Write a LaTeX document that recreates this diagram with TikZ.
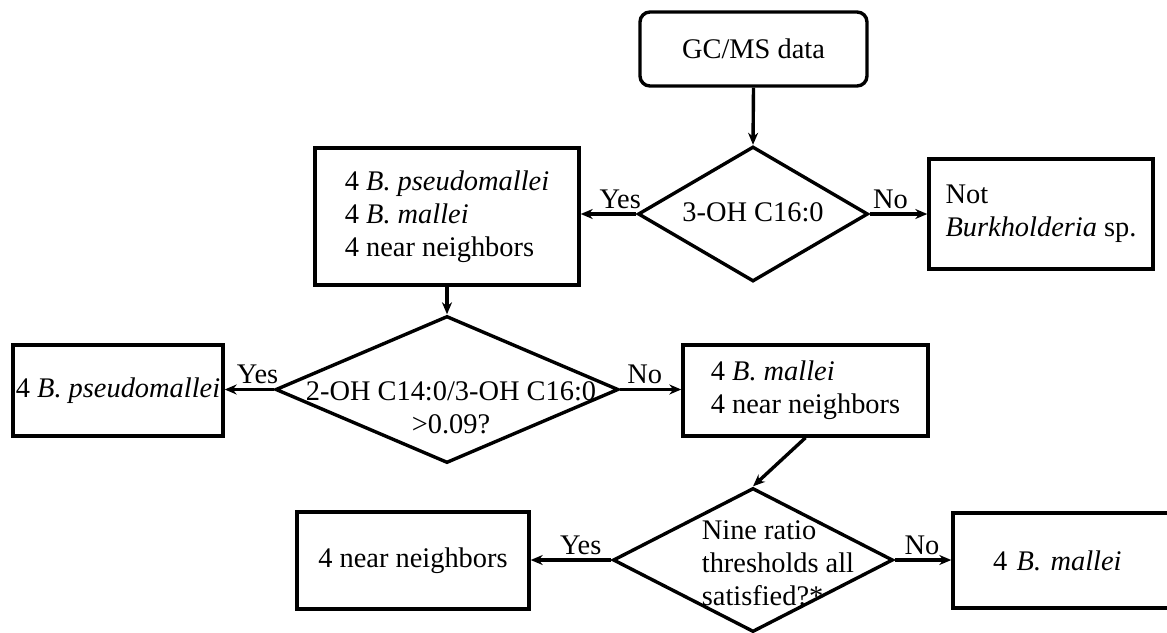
\documentclass[tikz,border=0pt]{standalone}
\usepackage{fontspec}
\setmainfont{Liberation Serif}
\usetikzlibrary{arrows.meta, shapes.geometric}

\begin{document}
\begin{tikzpicture}[x=0.5pt, y=-0.5pt, >={Stealth[length=6pt, width=5pt]},
  font=\fontsize{14.2pt}{16.5pt}\selectfont, line width=1.7pt,
  box/.style={draw, rectangle, inner sep=0pt, align=left},
  choice/.style={draw, diamond, inner sep=0pt},
  ans/.style={above, inner sep=2pt}]
  \useasboundingbox (0,0) rectangle (1167,632);

  % boxes
  \node[box, rounded corners=5pt, minimum width=113.5pt, minimum height=37pt] (gcms) at (753.5,49) {GC/MS data};
  \node[box, minimum width=132pt, minimum height=68.5pt] (all) at (447,216.5) {4 \textit{B. pseudomallei}\\4 \textit{B. mallei}\\4 near neighbors};
  \node[box, minimum width=112pt, minimum height=55pt] (notb) at (1041,214) {Not\\\textit{Burkholderia} sp.};
  \node[box, minimum width=105pt, minimum height=45.5pt] (bps) at (118,390.5) {4 \textit{B. pseudomallei}};
  \node[box, minimum width=122.5pt, minimum height=45.5pt] (bmnn) at (805.5,390.5) {4 \textit{B. mallei}\\4 near neighbors};
  \node[box, minimum width=116pt, minimum height=48.5pt] (nn) at (413,560.5) {4 near neighbors};
  \node[box, minimum height=47.5pt, inner xsep=20pt, text width=87pt] (bm) at (1080,560.5) {4 \textit{B. mallei}};

  % decisions
  \node[choice, minimum width=115pt, minimum height=67.5pt] (q1) at (753,214) {};
  \node (q1t) at (753,212) {3-OH C16:0};
  \node[choice, minimum width=171.5pt, minimum height=73.5pt] (q2) at (447,389.5) {};
  \node[align=center] (q2t) at (451,408) {2-OH C14:0/3-OH C16:0\\>0.09?};
  \node[choice, minimum width=140pt, minimum height=72pt] (q3) at (753,560) {};
  \node[align=left] (q3t) at (778,563) {Nine ratio\\thresholds all\\satisfied?*};

  % arrows
  \draw[->] (gcms.south) -- (q1.north);
  \draw[->] (q1.west) -- (q1.west -| all.east) node[ans, pos=0.29] (y1) {Yes};
  \draw[->] (q1.east) -- (q1.east -| notb.west) node[ans, pos=0.36] (n1) {No};
  \draw[->] (all.south) -- (q2.north);
  \draw[->] (q2.west) -- (q2.west -| bps.east) node[ans, pos=0.33] (y2) {Yes};
  \draw[->] (q2.east) -- (q2.east -| bmnn.west) node[ans, pos=0.4] (n2) {No};
  \draw[->] (bmnn.south) -- (q3.north);
  \draw[->] (q3.west) -- (q3.west -| nn.east) node[ans, pos=0.38] (y3) {Yes};
  \draw[->] (q3.east) -- (q3.east -| bm.west) node[ans, pos=0.48] (n3) {No};
\end{tikzpicture}
\end{document}
